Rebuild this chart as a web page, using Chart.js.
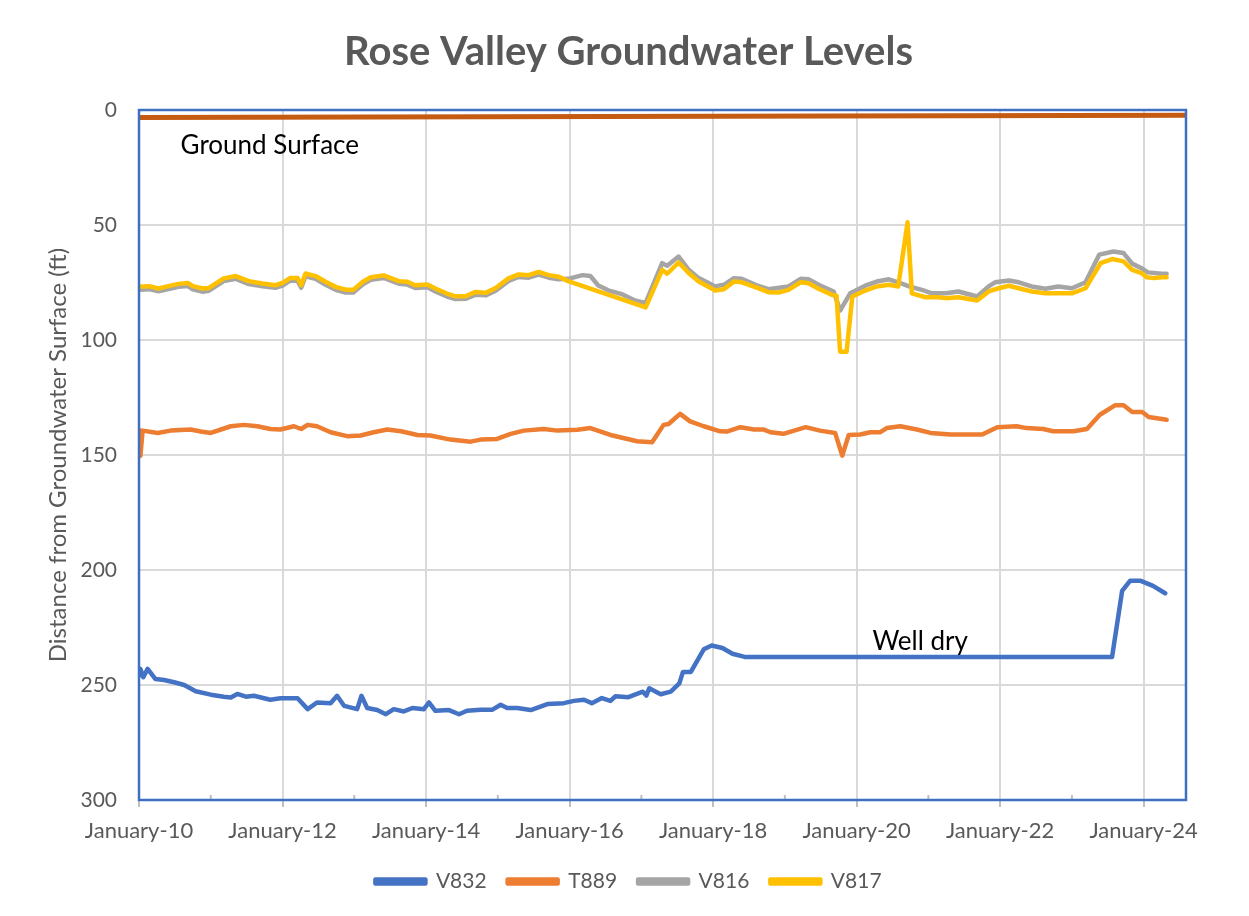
<!DOCTYPE html>
<html>
<head>
<meta charset="utf-8">
<script src="https://cdn.jsdelivr.net/npm/chart.js@4.4.1/dist/chart.umd.min.js"></script>
<style>
html,body{margin:0;padding:0;background:#ffffff;}
#wrap{width:1249px;height:916px;position:relative;}
</style>
</head>
<body>
<div id="wrap"><canvas id="c" width="1249" height="916"></canvas></div>
<script>
// ---------- DATA (x = decimal year, y = feet below ground surface) ----------
const chartTitle  = 'Rose Valley Groundwater Levels';
const yAxisTitle  = 'Distance from Groundwater Surface (ft)';
const xTickYears  = [2010, 2012, 2014, 2016, 2018, 2020, 2022, 2024];
const xTickLabels = ['January-10', 'January-12', 'January-14', 'January-16', 'January-18', 'January-20', 'January-22', 'January-24'];
const xMinorYears = [2011, 2013, 2015, 2017, 2019, 2021, 2023];
const yTickValues = [0, 50, 100, 150, 200, 250, 300];
const seriesNames = ['V832', 'T889', 'V816', 'V817'];

const v832Dates = [2010.00,2010.02,2010.06,2010.12,2010.23,2010.35,2010.49,2010.63,2010.79,2011.00,2011.18,2011.28,2011.37,2011.49,2011.60,2011.83,2011.97,2012.21,2012.35,2012.48,2012.67,2012.76,2012.86,2013.04,2013.10,2013.18,2013.32,2013.44,2013.55,2013.69,2013.81,2013.97,2014.04,2014.13,2014.32,2014.46,2014.57,2014.76,2014.92,2015.04,2015.13,2015.27,2015.46,2015.69,2015.92,2016.06,2016.20,2016.31,2016.45,2016.57,2016.64,2016.82,2017.02,2017.07,2017.11,2017.27,2017.41,2017.53,2017.58,2017.69,2017.87,2017.98,2018.13,2018.27,2018.44,2023.56,2023.70,2023.81,2023.96,2024.13,2024.30];
const v832Values = [246.0,243.0,246.6,243.0,247.4,247.8,248.8,250.0,252.7,254.2,255.1,255.4,253.9,255.1,254.7,256.4,255.8,255.8,260.5,257.6,257.9,254.7,259.1,260.5,254.7,260.0,260.9,262.7,260.5,261.5,260.0,260.5,257.6,261.2,260.9,262.7,261.2,260.8,260.8,258.6,260.0,260.0,260.9,258.3,257.9,256.9,256.4,257.9,255.7,256.9,254.9,255.3,252.9,254.6,251.4,254.0,252.9,249.3,244.3,244.3,234.5,232.8,233.9,236.4,237.8,237.8,209.1,204.7,204.7,206.9,210.1];

const t889Dates = [2010.00,2010.02,2010.05,2010.26,2010.44,2010.72,2010.86,2011.00,2011.28,2011.46,2011.65,2011.83,2011.97,2012.16,2012.26,2012.35,2012.48,2012.67,2012.90,2013.09,2013.27,2013.46,2013.65,2013.88,2014.06,2014.34,2014.62,2014.76,2014.99,2015.18,2015.36,2015.64,2015.83,2016.11,2016.29,2016.57,2016.94,2017.15,2017.31,2017.38,2017.54,2017.68,2017.87,2018.10,2018.19,2018.38,2018.57,2018.70,2018.80,2018.98,2019.29,2019.49,2019.70,2019.80,2019.89,2020.05,2020.19,2020.33,2020.42,2020.61,2020.84,2021.03,2021.31,2021.75,2021.96,2022.23,2022.37,2022.60,2022.74,2023.02,2023.21,2023.39,2023.60,2023.72,2023.84,2023.98,2024.07,2024.32];
const t889Values = [139.0,150.3,139.4,140.4,139.4,138.9,139.8,140.4,137.5,136.9,137.5,138.7,138.9,137.5,138.7,136.9,137.5,140.1,141.8,141.5,140.1,138.9,139.7,141.3,141.5,143.3,144.2,143.3,143.0,140.8,139.4,138.7,139.4,139.0,138.3,141.3,144.0,144.5,136.9,136.5,132.1,135.4,137.5,139.7,139.8,137.9,138.9,138.9,140.1,140.8,137.9,139.4,140.4,150.3,141.3,141.1,140.1,140.1,138.3,137.5,138.9,140.4,141.1,141.1,137.9,137.5,138.3,138.7,139.7,139.7,138.7,132.5,128.4,128.4,131.3,131.3,133.5,134.7];

const v816Dates = [2010.00,2010.14,2010.27,2010.41,2010.55,2010.68,2010.75,2010.89,2010.97,2011.18,2011.35,2011.53,2011.72,2011.90,2012.00,2012.11,2012.21,2012.26,2012.32,2012.46,2012.60,2012.74,2012.88,2012.99,2013.12,2013.23,2013.41,2013.62,2013.74,2013.85,2014.02,2014.13,2014.29,2014.41,2014.55,2014.69,2014.83,2014.97,2015.15,2015.29,2015.43,2015.57,2015.71,2015.85,2015.98,2016.18,2016.29,2016.40,2016.54,2016.74,2016.92,2017.06,2017.29,2017.36,2017.52,2017.66,2017.80,2018.03,2018.15,2018.29,2018.40,2018.59,2018.77,2019.05,2019.22,2019.33,2019.47,2019.68,2019.77,2019.91,2020.12,2020.28,2020.45,2020.58,2020.73,2020.91,2021.05,2021.24,2021.42,2021.68,2021.84,2021.93,2022.12,2022.26,2022.44,2022.63,2022.81,2023.00,2023.19,2023.38,2023.58,2023.72,2023.84,2023.97,2024.06,2024.25,2024.32];
const v816Values = [78.2,77.9,78.8,77.8,76.9,76.5,78.0,79.0,78.6,74.4,73.4,75.7,76.6,77.3,76.3,74.1,74.2,77.3,72.3,73.4,76.0,78.2,79.4,79.3,75.8,73.8,73.0,75.5,75.9,77.4,77.1,78.9,81.1,82.2,82.1,80.3,80.6,78.6,74.3,72.6,72.9,71.6,72.9,73.6,73.4,71.8,72.2,76.3,78.4,80.2,82.9,83.9,66.6,67.7,63.7,69.5,73.1,76.7,76.0,73.1,73.4,76.0,77.9,76.7,73.4,73.6,76.0,78.9,87.2,79.7,76.4,74.6,73.6,74.9,76.7,78.2,79.7,79.7,78.9,81.1,76.7,74.9,74.1,74.9,76.7,77.7,76.7,77.5,74.9,62.9,61.5,62.2,66.8,68.8,70.6,71.2,71.2];

const v817Dates = [2010.00,2010.14,2010.27,2010.41,2010.55,2010.68,2010.75,2010.89,2010.97,2011.18,2011.35,2011.53,2011.72,2011.90,2012.00,2012.11,2012.21,2012.26,2012.32,2012.46,2012.60,2012.74,2012.88,2012.99,2013.12,2013.23,2013.41,2013.62,2013.74,2013.85,2014.02,2014.13,2014.29,2014.41,2014.55,2014.69,2014.83,2014.97,2015.15,2015.29,2015.43,2015.57,2015.71,2015.85,2015.98,2017.06,2017.29,2017.36,2017.52,2017.66,2017.80,2018.03,2018.15,2018.29,2018.40,2018.59,2018.77,2018.91,2019.05,2019.22,2019.33,2019.47,2019.66,2019.72,2019.77,2019.86,2019.94,2020.12,2020.28,2020.45,2020.58,2020.71,2020.77,2020.96,2021.14,2021.24,2021.42,2021.68,2021.84,2021.98,2022.12,2022.26,2022.44,2022.63,2022.81,2023.00,2023.19,2023.40,2023.56,2023.72,2023.84,2023.97,2024.04,2024.15,2024.25,2024.32];
const v817Values = [76.9,76.6,77.6,76.6,75.6,75.2,76.6,77.6,77.4,73.2,72.2,74.4,75.4,76.2,75.2,73.0,73.0,76.2,71.1,72.2,74.7,76.9,78.1,78.1,74.7,72.7,71.9,74.4,74.7,76.2,75.9,77.6,79.8,81.0,81.0,79.1,79.5,77.4,73.2,71.5,71.8,70.4,71.8,72.5,74.4,85.8,69.5,71.2,66.3,70.9,74.6,78.5,77.9,74.6,74.9,77.0,79.2,79.4,78.2,74.9,75.3,77.7,80.4,80.7,105.1,105.1,81.1,78.5,76.7,76.0,76.7,48.8,79.7,81.4,81.4,81.8,81.4,82.8,78.9,77.5,76.4,77.5,78.9,79.7,79.7,79.7,77.5,66.6,64.8,65.8,69.5,70.9,72.7,73.1,72.7,72.7];

const groundDates  = [2010.00, 2024.59];
const groundValues = [3.3, 2.3];

// ---------- helpers ----------
const pts = (xs, ys) => xs.map((x, i) => ({ x: x, y: ys[i] }));

const TEXT_GRAY = '#595959';
const FONT = 'Lato, "Open Sans", sans-serif';

const framePlugin = {
  id: 'frame',
  afterDatasetsDraw(chart) {
    const { ctx, chartArea: a, scales } = chart;
    ctx.save();
    // minor tick marks on the x axis (odd years), pointing into the plot
    ctx.strokeStyle = '#BFBFBF';
    ctx.lineWidth = 2;
    xMinorYears.forEach((yr) => {
      const px = scales.x.getPixelForValue(yr);
      ctx.beginPath();
      ctx.moveTo(px, a.bottom - 5);
      ctx.lineTo(px, a.bottom);
      ctx.stroke();
    });
    // plot area border
    ctx.strokeStyle = '#3f6fc1';
    ctx.lineWidth = 2.5;
    ctx.strokeRect(a.left, a.top, a.right - a.left, a.bottom - a.top);
    // annotations
    ctx.fillStyle = '#000000';
    ctx.font = '26px ' + FONT;
    ctx.textBaseline = 'middle';
    ctx.textAlign = 'left';
    ctx.fillText('Ground Surface', scales.x.getPixelForValue(2010.58), scales.y.getPixelForValue(15.3));
    ctx.fillText('Well dry', scales.x.getPixelForValue(2020.22), scales.y.getPixelForValue(231.2));
    // chart title
    ctx.fillStyle = TEXT_GRAY;
    ctx.font = 'bold 40px ' + FONT;
    ctx.textAlign = 'center';
    ctx.fillText(chartTitle, 628.5, 52);
    ctx.restore();
  }
};

const mk = (label, xs, ys, color, width, extra) => Object.assign({
  label: label,
  data: pts(xs, ys),
  borderColor: color,
  backgroundColor: color,
  borderWidth: width,
  pointRadius: 0,
  pointHoverRadius: 0,
  tension: 0,
  borderJoinStyle: 'round',
  borderCapStyle: 'round',
  fill: false
}, extra || {});

new Chart(document.getElementById('c'), {
  type: 'line',
  data: {
    datasets: [
      mk(seriesNames[0], v832Dates, v832Values, '#4472C4', 4.5),
      mk(seriesNames[1], t889Dates, t889Values, '#ED7D31', 4.5),
      mk(seriesNames[2], v816Dates, v816Values, '#A5A5A5', 4.5, { order: 1 }),
      mk(seriesNames[3], v817Dates, v817Values, '#FFC000', 4.5, { order: -1 }),
      mk('Ground Surface', groundDates, groundValues, '#C55A11', 5, { order: 2 })
    ]
  },
  options: {
    responsive: false,
    animation: false,
    events: [],
    layout: { padding: { top: 110, left: 8, right: 0, bottom: 14 } },
    plugins: {
      title: { display: false },
      legend: {
        position: 'bottom',
        labels: {
          color: TEXT_GRAY,
          font: { family: FONT, size: 21 },
          boxWidth: 50,
          boxHeight: 4,
          padding: 21,
          filter: (item) => item.text !== 'Ground Surface',
          sort: (a, b) => a.datasetIndex - b.datasetIndex
        }
      },
      tooltip: { enabled: false }
    },
    scales: {
      x: {
        type: 'linear',
        min: 2010,
        max: 2024.59,
        afterFit: (s) => { s.height = 50; },
        ticks: {
          stepSize: 2,
          includeBounds: false,
          autoSkip: false,
          maxRotation: 0,
          padding: 11,
          color: TEXT_GRAY,
          font: { family: FONT, size: 22 },
          callback: (v) => { const i = xTickYears.indexOf(v); return i >= 0 ? xTickLabels[i] : ''; }
        },
        grid: {
          color: '#D9D9D9',
          tickColor: '#BFBFBF',
          lineWidth: 2,
          tickLength: 7
        },
        border: { display: false }
      },
      y: {
        type: 'linear',
        reverse: true,
        min: yTickValues[0],
        max: yTickValues[yTickValues.length - 1],
        afterFit: (s) => { s.width = 131; },
        ticks: {
          stepSize: 50,
          padding: 22,
          color: TEXT_GRAY,
          font: { family: FONT, size: 21 }
        },
        grid: { color: '#D9D9D9', lineWidth: 2, drawTicks: false },
        border: { display: false },
        title: {
          display: true,
          text: yAxisTitle,
          color: TEXT_GRAY,
          font: { family: FONT, size: 24 },
          padding: { top: 36, bottom: 0 }
        }
      },
      yRight: {
        type: 'linear',
        position: 'right',
        display: true,
        afterFit: (s) => { s.width = 63; },
        ticks: { display: false },
        grid: { display: false },
        border: { display: false }
      }
    }
  },
  plugins: [framePlugin]
});
</script>
</body>
</html>
